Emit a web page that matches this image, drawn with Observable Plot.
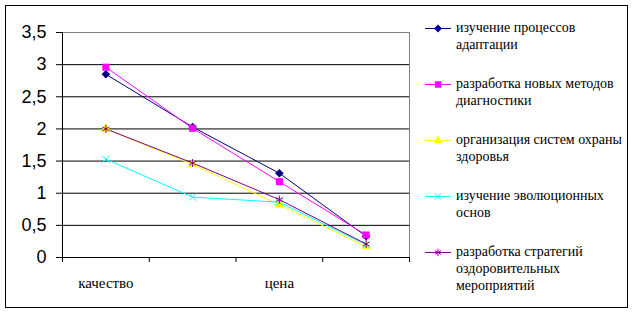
<!DOCTYPE html>
<html><head><meta charset="utf-8">
<script src="https://cdn.jsdelivr.net/npm/d3@7"></script>
<script src="https://cdn.jsdelivr.net/npm/@observablehq/plot@0.6"></script>
<style>
body{margin:0;background:#fff;}
#wrap{position:relative;width:633px;height:312px;overflow:hidden;background:#fff;}
#border{position:absolute;left:5px;top:5px;width:621px;height:301px;border:1px solid #000;box-sizing:content-box;}
#chart{position:absolute;left:0;top:0;}
.leg{position:absolute;left:425px;font-family:'Liberation Serif','Times New Roman',serif;font-size:14px;line-height:17px;color:#000;}
.leg svg{position:absolute;left:0;top:0;}
.leg span{position:absolute;left:31px;top:0;white-space:pre;}
</style>
</head><body>
<div id="wrap"><div id="border"></div><div id="chart"></div><div id="legend"></div></div>
<script>
// ---- data ----
const categories = ["качество", "", "цена", ""];
const seriesNames = [
  "изучение процессов\nадаптации",
  "разработка новых методов\nдиагностики",
  "организация систем охраны\nздоровья",
  "изучение эволюционных\nоснов",
  "разработка стратегий\nоздоровительных\nмероприятий"
];
const s1 = [2.85, 2.03, 1.31, 0.33];
const s2 = [2.96, 2.01, 1.18, 0.35];
const s3 = [2.00, 1.45, 0.82, 0.17];
const s4 = [1.53, 0.94, 0.86, 0.20];
const s5 = [2.00, 1.47, 0.90, 0.21];
const yTicks = [0, 0.5, 1, 1.5, 2, 2.5, 3, 3.5];

// ---- styles ----
const colors = ["#000080", "#FF00FF", "#FFFF00", "#00FFFF", "#800080"];
const symbols = ["diamond2", "square", "triangle", "times", "asterisk"];
const filled = [true, true, true, false, false];
const radii = [3.9, 4, 3.6, 3.3, 3.8];

const series = [s1, s2, s3, s4, s5];
const rows = [];
series.forEach((vals, si) => vals.forEach((v, i) => rows.push({i, v, s: si})));

const dotMarks = series.map((_, si) => Plot.dot(rows.filter(d => d.s === si), {
  x: "i", y: "v", symbol: symbols[si], r: radii[si],
  fill: filled[si] ? colors[si] : "none",
  stroke: filled[si] ? "none" : colors[si], strokeWidth: 1
}));
const lineMarks = series.map((_, si) => Plot.line(rows.filter(d => d.s === si), {
  x: "i", y: "v", stroke: colors[si], strokeWidth: 1
}));

const chart = Plot.plot({
  width: 633, height: 312,
  marginLeft: 62, marginRight: 224, marginTop: 32, marginBottom: 55,
  x: {type: "linear", domain: [-0.5, 3.5]},
  y: {domain: [0, 3.5]},
  style: {fontFamily: "'Liberation Sans', Arial, sans-serif", background: "transparent", color: "#000"},
  marks: [
    Plot.ruleY(yTicks.filter(t => t > 0 && t < 3.5), {stroke: "#000", strokeWidth: 1}),
    Plot.ruleY([3.5], {stroke: "#808080"}),
    Plot.ruleX([3.5], {y1: 0, y2: 3.5, stroke: "#808080"}),
    Plot.ruleY([0], {stroke: "#000"}),
    Plot.ruleX([-0.5], {y1: 0, y2: 3.5, stroke: "#000"}),
    Plot.axisY({ticks: yTicks, tickSize: 6, tickPadding: 10, fontSize: 18, label: null,
      tickFormat: d => String(d).replace(".", ",")}),
    Plot.axisX({ticks: [-0.5, 0.5, 1.5, 2.5, 3.5], tickSize: 5, tickFormat: () => "", label: null}),
    Plot.axisX({ticks: [0, 1, 2, 3], tickSize: 0, tickPadding: 20, label: null,
      fontFamily: "'Liberation Serif', 'Times New Roman', serif", fontSize: 15,
      tickFormat: i => categories[i]}),
    ...lineMarks,
    ...dotMarks
  ]
});
document.getElementById("chart").appendChild(chart);

// ---- legend ----
const legend = document.getElementById("legend");
const legendTops = [19, 75, 131, 187, 243];
const symMap = {diamond2: d3.symbolDiamond2, square: d3.symbolSquare, triangle: d3.symbolTriangle, times: d3.symbolTimes, asterisk: d3.symbolAsterisk};
seriesNames.forEach((name, si) => {
  const div = document.createElement("div");
  div.className = "leg";
  div.style.top = legendTops[si] + "px";
  const r = radii[si] * 0.9;
  const path = d3.symbol(symMap[symbols[si]], Math.PI * r * r)();
  div.innerHTML = `<svg width="27" height="17"><line x1="0" x2="26" y1="9.5" y2="9.5" stroke="${colors[si]}" stroke-width="1"/>` +
    `<path transform="translate(13,9.5)" d="${path}" fill="${filled[si] ? colors[si] : "none"}" stroke="${filled[si] ? "none" : colors[si]}"/></svg>`;
  const span = document.createElement("span");
  span.textContent = name;
  div.appendChild(span);
  legend.appendChild(div);
});
</script>
</body></html>
